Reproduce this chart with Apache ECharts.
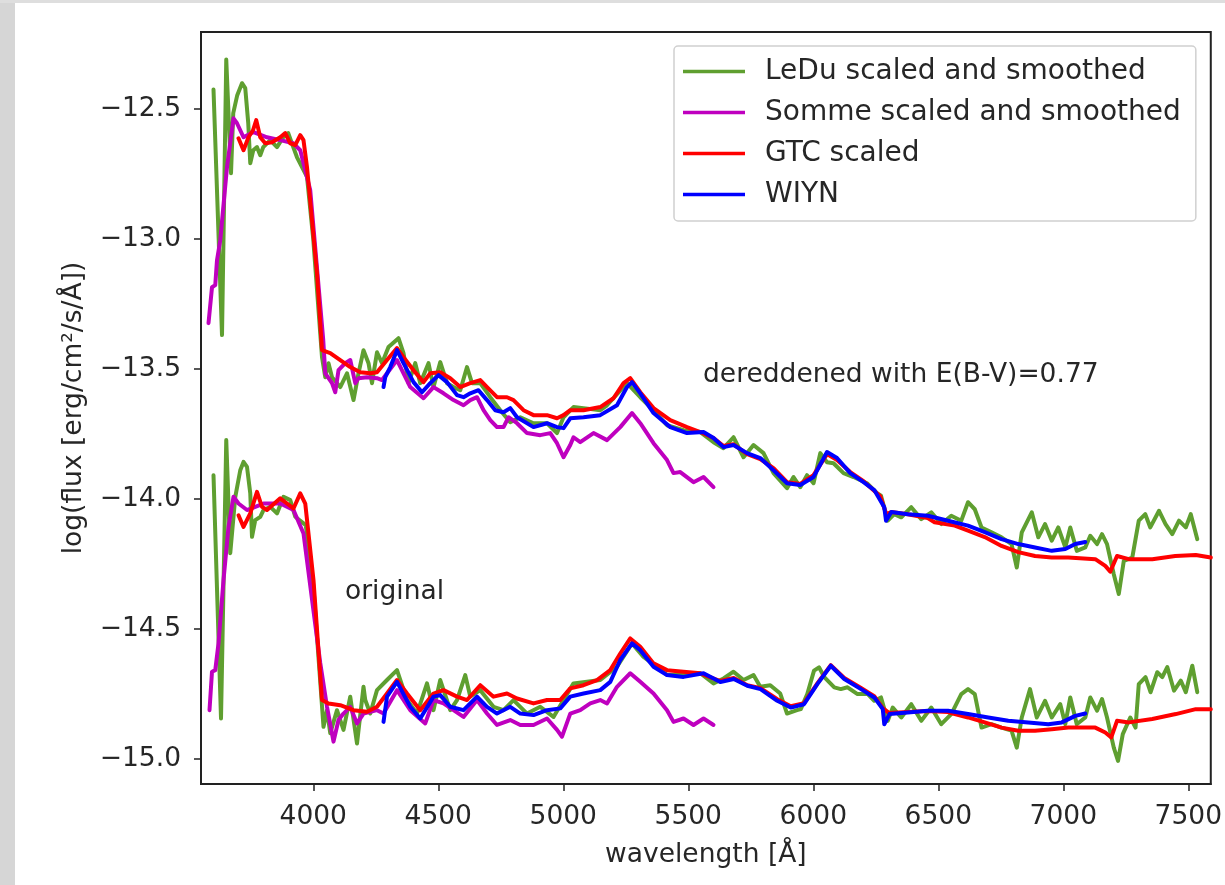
<!DOCTYPE html>
<html>
<head>
<meta charset="utf-8">
<script src="https://cdn.jsdelivr.net/npm/echarts@6/dist/echarts.min.js"></script>
<style>
  html, body { margin: 0; padding: 0; background: #fff; }
  #main { width: 1225px; height: 885px; }
</style>
</head>
<body>
<div id="main"></div>
<script>
// 刻度
var xTicks = [4000, 4500, 5000, 5500, 6000, 6500, 7000, 7500];
var yTicks = [-15.0, -14.5, -14.0, -13.5, -13.0, -12.5];

// dereddened spectra [wavelength, log flux]
var leduDered = [
  [3601,-12.424],[3635,-13.369],[3652,-12.309],[3671,-12.746],[3680,-12.515],[3696,-12.446],
  [3715,-12.400],[3728,-12.419],[3740,-12.554],[3748,-12.708],[3760,-12.658],[3775,-12.646],
  [3788,-12.677],[3800,-12.646],[3828,-12.619],[3855,-12.646],[3880,-12.608],[3900,-12.592],
  [3920,-12.646],[3935,-12.685],[3975,-12.760],[4000,-13.000],[4035,-13.454],[4048,-13.531],[4061,-13.477],
  [4075,-13.531],[4108,-13.569],[4135,-13.516],[4161,-13.619],[4181,-13.516],[4201,-13.427],
  [4221,-13.477],[4235,-13.554],[4255,-13.435],[4275,-13.477],[4301,-13.415],[4341,-13.381],
  [4361,-13.438],[4381,-13.554],[4408,-13.477],[4428,-13.554],[4461,-13.477],[4481,-13.569],
  [4508,-13.473],[4535,-13.554],[4561,-13.569],[4588,-13.581],[4615,-13.492],[4635,-13.554],
  [4668,-13.554],[4708,-13.608],[4748,-13.658],[4788,-13.704],[4828,-13.685],[4881,-13.708],
  [4935,-13.708],[4975,-13.746],[5001,-13.685],[5041,-13.646],[5081,-13.650],[5148,-13.658],
  [5175,-13.639],[5255,-13.554],[5308,-13.608],[5361,-13.658],[5415,-13.716],[5481,-13.735],
  [5548,-13.742],[5601,-13.781],[5641,-13.804],[5681,-13.762],[5721,-13.839],[5761,-13.792],
  [5801,-13.823],[5841,-13.900],[5895,-13.958],[5921,-13.915],[5948,-13.954],[5975,-13.908],
  [6001,-13.939],[6028,-13.823],[6055,-13.858],[6081,-13.862],[6121,-13.900],[6161,-13.915],
  [6215,-13.939],[6255,-13.977],[6271,-13.987],[6298,-14.083],[6324,-14.058],[6352,-14.070],
  [6392,-14.031],[6432,-14.077],[6472,-14.051],[6512,-14.096],[6552,-14.064],[6592,-14.083],
  [6619,-14.012],[6646,-14.039],[6673,-14.109],[6713,-14.128],[6753,-14.147],[6793,-14.173],
  [6814,-14.263],[6834,-14.128],[6874,-14.051],[6900,-14.147],[6927,-14.096],[6954,-14.160],
  [6980,-14.109],[7008,-14.186],[7028,-14.109],[7054,-14.199],[7088,-14.186],[7108,-14.141],
  [7135,-14.173],[7155,-14.135],[7175,-14.173],[7202,-14.289],[7222,-14.365],[7242,-14.238],
  [7276,-14.225],[7302,-14.083],[7328,-14.058],[7348,-14.109],[7383,-14.045],[7409,-14.096],
  [7436,-14.135],[7463,-14.083],[7490,-14.109],[7510,-14.058],[7536,-14.154]
];
var sommeDered = [
  [3581,-13.323],[3595,-13.185],[3608,-13.177],[3615,-13.081],[3628,-13.004],[3655,-12.723],
  [3681,-12.535],[3695,-12.554],[3721,-12.608],[3761,-12.588],[3815,-12.608],[3868,-12.619],
  [3920,-12.631],[3948,-12.658],[3988,-12.812],[4040,-13.389],[4048,-13.516],[4075,-13.554],
  [4088,-13.589],[4101,-13.504],[4128,-13.477],[4148,-13.465],[4168,-13.554],[4181,-13.535],
  [4215,-13.531],[4255,-13.535],[4275,-13.542],[4335,-13.465],[4388,-13.569],[4441,-13.612],
  [4481,-13.569],[4521,-13.593],[4561,-13.619],[4601,-13.639],[4628,-13.619],[4655,-13.608],
  [4681,-13.658],[4708,-13.696],[4735,-13.723],[4761,-13.723],[4781,-13.685],[4815,-13.708],
  [4855,-13.746],[4908,-13.754],[4948,-13.746],[4975,-13.785],[5001,-13.839],[5028,-13.792],
  [5041,-13.762],[5068,-13.781],[5121,-13.746],[5175,-13.773],[5228,-13.723],[5275,-13.669],
  [5308,-13.708],[5361,-13.785],[5415,-13.850],[5441,-13.900],[5468,-13.896],[5521,-13.935],
  [5561,-13.915],[5601,-13.954]
];
var gtcDered = [
  [3701,-12.612],[3721,-12.658],[3741,-12.608],[3759,-12.581],[3772,-12.542],[3788,-12.608],
  [3808,-12.631],[3835,-12.627],[3868,-12.608],[3888,-12.592],[3908,-12.631],[3928,-12.638],
  [3948,-12.600],[3961,-12.619],[3975,-12.723],[4015,-13.131],[4035,-13.427],[4041,-13.427],
  [4068,-13.438],[4108,-13.465],[4148,-13.492],[4188,-13.512],[4228,-13.516],[4255,-13.512],
  [4295,-13.465],[4335,-13.419],[4361,-13.454],[4401,-13.504],[4441,-13.550],[4468,-13.516],
  [4508,-13.512],[4548,-13.535],[4588,-13.569],[4628,-13.554],[4668,-13.542],[4695,-13.569],
  [4735,-13.608],[4775,-13.608],[4801,-13.619],[4841,-13.658],[4881,-13.677],[4935,-13.677],
  [4975,-13.689],[5001,-13.677],[5028,-13.658],[5081,-13.658],[5148,-13.646],[5201,-13.612],
  [5241,-13.554],[5268,-13.535],[5308,-13.589],[5361,-13.650],[5428,-13.696],[5495,-13.723],
  [5548,-13.742],[5601,-13.765],[5641,-13.796],[5681,-13.789],[5736,-13.827],[5788,-13.846],
  [5841,-13.881],[5895,-13.935],[5948,-13.942],[6001,-13.908],[6055,-13.827],[6095,-13.850],
  [6148,-13.896],[6201,-13.931],[6268,-13.989],[6292,-14.058],[6312,-14.050],[6378,-14.058],
  [6458,-14.073],[6485,-14.089],[6566,-14.102],[6619,-14.121],[6686,-14.146],[6753,-14.180],
  [6820,-14.204],[6887,-14.219],[6954,-14.225],[7020,-14.225],[7128,-14.231],[7168,-14.257],
  [7188,-14.279],[7215,-14.219],[7262,-14.231],[7356,-14.231],[7448,-14.219],[7530,-14.215],
  [7590,-14.225]
];
var wiynDered = [
  [4281,-13.569],[4288,-13.531],[4308,-13.492],[4335,-13.427],[4361,-13.477],[4401,-13.550],
  [4435,-13.589],[4468,-13.554],[4501,-13.523],[4535,-13.550],[4575,-13.600],[4601,-13.608],
  [4628,-13.593],[4661,-13.581],[4695,-13.619],[4728,-13.658],[4761,-13.666],[4788,-13.650],
  [4815,-13.685],[4881,-13.723],[4935,-13.708],[4975,-13.723],[5001,-13.727],[5028,-13.689],
  [5081,-13.685],[5148,-13.677],[5215,-13.639],[5255,-13.569],[5275,-13.550],[5308,-13.593],
  [5361,-13.669],[5428,-13.723],[5495,-13.746],[5561,-13.742],[5601,-13.765],[5641,-13.800],
  [5681,-13.792],[5735,-13.823],[5788,-13.842],[5841,-13.889],[5895,-13.939],[5948,-13.946],
  [6001,-13.915],[6055,-13.819],[6095,-13.842],[6148,-13.900],[6201,-13.935],[6244,-13.965],
  [6284,-14.031],[6291,-14.083],[6312,-14.050],[6378,-14.058],[6458,-14.064],[6539,-14.083],
  [6619,-14.102],[6686,-14.127],[6753,-14.154],[6820,-14.173],[6887,-14.186],[6954,-14.199],
  [7008,-14.192],[7048,-14.173],[7088,-14.165]
];

// original spectra
var leduOrig = [
  [3601,-13.908],[3631,-14.844],[3652,-13.773],[3668,-14.208],[3688,-13.992],[3708,-13.889],
  [3721,-13.857],[3735,-13.876],[3748,-13.977],[3755,-14.145],[3768,-14.081],[3788,-14.068],
  [3801,-14.042],[3828,-14.030],[3855,-14.055],[3881,-13.991],[3908,-14.004],[3928,-14.068],
  [3970,-14.100],[4000,-14.330],[4041,-14.876],[4055,-14.812],[4068,-14.901],[4095,-14.812],[4121,-14.888],
  [4148,-14.760],[4175,-14.940],[4201,-14.722],[4208,-14.773],[4228,-14.825],[4255,-14.735],
  [4295,-14.696],[4335,-14.658],[4375,-14.773],[4415,-14.825],[4455,-14.709],[4481,-14.812],
  [4508,-14.696],[4548,-14.812],[4575,-14.773],[4608,-14.677],[4628,-14.760],[4668,-14.735],
  [4721,-14.799],[4761,-14.812],[4801,-14.773],[4855,-14.825],[4908,-14.799],[4961,-14.838],
  [5001,-14.773],[5041,-14.709],[5095,-14.703],[5148,-14.696],[5215,-14.645],[5275,-14.555],
  [5321,-14.607],[5375,-14.645],[5415,-14.677],[5481,-14.677],[5548,-14.670],[5601,-14.709],
  [5641,-14.690],[5681,-14.664],[5721,-14.696],[5761,-14.677],[5788,-14.722],[5828,-14.716],
  [5868,-14.748],[5895,-14.825],[5935,-14.812],[5950,-14.808],[5976,-14.750],[6003,-14.660],
  [6023,-14.647],[6044,-14.685],[6084,-14.724],[6110,-14.731],[6137,-14.724],[6177,-14.750],
  [6218,-14.750],[6244,-14.776],[6271,-14.763],[6298,-14.853],[6318,-14.802],[6352,-14.840],
  [6392,-14.789],[6432,-14.853],[6472,-14.802],[6512,-14.866],[6552,-14.827],[6592,-14.750],
  [6619,-14.731],[6646,-14.750],[6673,-14.879],[6713,-14.866],[6753,-14.879],[6793,-14.891],
  [6814,-14.956],[6834,-14.840],[6867,-14.731],[6894,-14.840],[6927,-14.776],[6954,-14.840],
  [6988,-14.789],[7008,-14.866],[7028,-14.763],[7054,-14.866],[7088,-14.840],[7108,-14.763],
  [7135,-14.814],[7155,-14.769],[7175,-14.840],[7202,-14.956],[7219,-15.007],[7238,-14.904],
  [7268,-14.840],[7289,-14.879],[7302,-14.712],[7329,-14.685],[7349,-14.743],[7376,-14.666],
  [7396,-14.685],[7416,-14.646],[7443,-14.737],[7470,-14.698],[7490,-14.743],[7516,-14.641],
  [7536,-14.743]
];
var sommeOrig = [
  [3585,-14.812],[3595,-14.664],[3608,-14.658],[3621,-14.555],[3641,-14.312],[3661,-14.107],
  [3681,-13.991],[3701,-14.017],[3735,-14.042],[3801,-14.017],[3868,-14.017],[3921,-14.042],
  [3961,-14.132],[4028,-14.631],[4055,-14.799],[4081,-14.933],[4101,-14.850],[4121,-14.825],
  [4148,-14.799],[4175,-14.863],[4201,-14.825],[4255,-14.812],[4281,-14.825],[4335,-14.735],
  [4388,-14.812],[4448,-14.863],[4481,-14.773],[4521,-14.786],[4561,-14.812],[4601,-14.838],
  [4655,-14.773],[4695,-14.825],[4735,-14.869],[4788,-14.850],[4828,-14.869],[4881,-14.869],
  [4935,-14.844],[4975,-14.888],[4995,-14.914],[5028,-14.825],[5068,-14.812],[5108,-14.786],
  [5148,-14.773],[5175,-14.786],[5215,-14.722],[5268,-14.670],[5308,-14.703],[5361,-14.748],
  [5415,-14.812],[5441,-14.857],[5481,-14.844],[5521,-14.869],[5561,-14.844],[5601,-14.869]
];
var gtcOrig = [
  [3701,-14.062],[3721,-14.107],[3748,-14.055],[3775,-13.972],[3795,-14.030],[3815,-14.042],
  [3868,-13.997],[3895,-14.017],[3921,-14.036],[3948,-13.978],[3968,-14.017],[4001,-14.312],
  [4035,-14.773],[4061,-14.786],[4108,-14.793],[4161,-14.812],[4215,-14.818],[4255,-14.799],
  [4295,-14.748],[4335,-14.696],[4375,-14.748],[4428,-14.812],[4481,-14.748],[4521,-14.735],
  [4575,-14.760],[4615,-14.773],[4668,-14.716],[4721,-14.760],[4775,-14.748],[4815,-14.767],
  [4881,-14.786],[4935,-14.773],[4988,-14.773],[5028,-14.728],[5081,-14.716],[5135,-14.696],
  [5188,-14.658],[5228,-14.594],[5268,-14.536],[5308,-14.568],[5361,-14.632],[5415,-14.658],
  [5481,-14.664],[5548,-14.670],[5628,-14.700],[5682,-14.688],[5736,-14.716],[5789,-14.727],
  [5856,-14.770],[5910,-14.797],[5963,-14.785],[6017,-14.708],[6070,-14.639],[6124,-14.688],
  [6191,-14.727],[6244,-14.758],[6278,-14.804],[6304,-14.823],[6378,-14.819],[6458,-14.815],
  [6539,-14.819],[6566,-14.827],[6619,-14.840],[6686,-14.859],[6753,-14.879],[6820,-14.891],
  [6887,-14.891],[6954,-14.885],[7020,-14.879],[7128,-14.879],[7168,-14.898],[7192,-14.917],
  [7215,-14.853],[7262,-14.859],[7356,-14.846],[7450,-14.827],[7530,-14.808],[7590,-14.808]
];
var wiynOrig = [
  [4281,-14.857],[4295,-14.760],[4335,-14.703],[4388,-14.799],[4428,-14.844],[4481,-14.760],
  [4508,-14.754],[4548,-14.799],[4601,-14.812],[4655,-14.760],[4695,-14.799],[4735,-14.825],
  [4788,-14.799],[4828,-14.825],[4881,-14.831],[4935,-14.812],[4988,-14.805],[5028,-14.760],
  [5081,-14.748],[5148,-14.735],[5188,-14.703],[5228,-14.619],[5275,-14.555],[5308,-14.581],
  [5361,-14.645],[5415,-14.677],[5481,-14.684],[5561,-14.670],[5628,-14.704],[5682,-14.692],
  [5736,-14.718],[5789,-14.731],[5856,-14.776],[5910,-14.802],[5963,-14.789],[6017,-14.711],
  [6070,-14.641],[6124,-14.692],[6191,-14.731],[6244,-14.763],[6278,-14.808],[6284,-14.866],
  [6305,-14.827],[6378,-14.821],[6458,-14.814],[6539,-14.814],[6619,-14.827],[6700,-14.840],
  [6780,-14.853],[6860,-14.859],[6940,-14.866],[6994,-14.859],[7048,-14.834],[7088,-14.825]
];

var names = ["LeDu scaled and smoothed", "Somme scaled and smoothed", "GTC scaled", "WIYN"];
var colors = ["#5f9f30", "#bf00bf", "#ff0000", "#0000ff"];

var FONT = "DejaVu Sans";
var TXT = "#262626";

function lineSeries(idx, data) {
    return {
        name: names[idx],
        type: "line",
        data: data,
        showSymbol: false,
        symbol: "none",
        animation: false,
        itemStyle: { color: colors[idx] },
        lineStyle: { color: colors[idx], width: 4, join: "round", cap: "round" }
    };
}

var myChart = echarts.init(document.getElementById("main"), null, { renderer: "canvas" });

var option = {
    backgroundColor: "#ffffff",
    animation: false,
    grid: {
        left: 201, right: 14, top: 32, bottom: 101,
        show: true, borderColor: "#222", borderWidth: 2, backgroundColor: "#fff"
    },
    legend: {
        data: names,
        orient: "vertical",
        left: 674, top: 46,
        padding: [10, 15, 11, 9],
        itemGap: 10,
        itemWidth: 62,
        itemHeight: 3.5,
        icon: "rect",
        borderColor: "#d0d0d0",
        borderWidth: 1.5,
        borderRadius: 4,
        backgroundColor: "rgba(255,255,255,0.9)",
        textStyle: { fontFamily: FONT, fontSize: 28, color: TXT, lineHeight: 31, padding: [0, 0, 0, 15] }
    },
    xAxis: {
        type: "value",
        min: 3551, max: 7590,
        name: "wavelength [Å]",
        nameLocation: "middle",
        nameGap: 58,
        nameTextStyle: { fontFamily: FONT, fontSize: 26.5, color: TXT },
        splitLine: { show: false },
        axisLine: { show: true, lineStyle: { color: "#222", width: 2 } },
        axisTick: { show: true, length: 7, lineStyle: { color: "#222", width: 1.5 }, customValues: xTicks },
        axisLabel: {
            margin: 20, fontFamily: FONT, fontSize: 26.5, color: TXT,
            customValues: xTicks,
            formatter: function (v) { return String(v); }
        }
    },
    yAxis: {
        type: "value",
        min: -15.096, max: -12.203,
        name: "log(flux [erg/cm²/s/Å])",
        nameLocation: "middle",
        nameGap: 113,
        nameTextStyle: { fontFamily: FONT, fontSize: 26.5, color: TXT },
        splitLine: { show: false },
        axisLine: { show: true, lineStyle: { color: "#222", width: 2 } },
        axisTick: { show: true, length: 7, lineStyle: { color: "#222", width: 1.5 }, customValues: yTicks },
        axisLabel: {
            margin: 20, fontFamily: FONT, fontSize: 26.5, color: TXT,
            customValues: yTicks,
            formatter: function (v) { return (v < 0 ? "\u2212" : "") + Math.abs(v).toFixed(1); }
        }
    },
    graphic: [
        { type: "rect", left: 0, top: 0, z: -10, shape: { width: 15, height: 885 }, style: { fill: "#d6d6d6" } },
        { type: "rect", left: 0, top: 0, z: -10, shape: { width: 1225, height: 3 }, style: { fill: "#dedede" } },
        {
            type: "text", left: 703, top: 362, z: 100,
            style: { text: "dereddened with E(B-V)=0.77", font: "26.5px 'DejaVu Sans'", fill: TXT }
        },
        {
            type: "text", left: 345, top: 579, z: 100,
            style: { text: "original", font: "26.5px 'DejaVu Sans'", fill: TXT }
        }
    ],
    series: [
        lineSeries(0, leduDered),
        lineSeries(1, sommeDered),
        lineSeries(2, gtcDered),
        lineSeries(3, wiynDered),
        lineSeries(0, leduOrig),
        lineSeries(1, sommeOrig),
        lineSeries(2, gtcOrig),
        lineSeries(3, wiynOrig)
    ]
};

myChart.setOption(option);
</script>
</body>
</html>
